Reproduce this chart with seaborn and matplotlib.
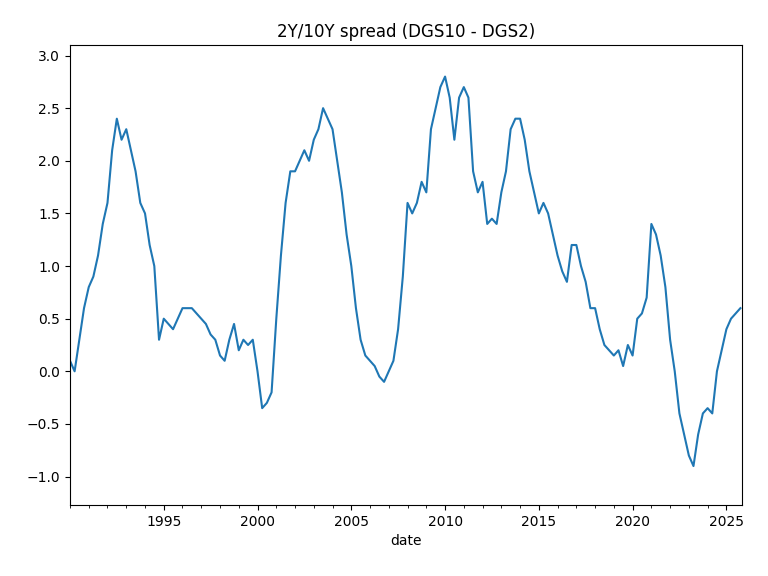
import matplotlib
matplotlib.use("Agg")
import matplotlib.pyplot as plt
import matplotlib.dates as mdates
import seaborn as sns
import pandas as pd

tick_years = [1995, 2000, 2005, 2010, 2015, 2020, 2025]
spread = [
    0.1, 0.0, 0.3, 0.6,
    0.8, 0.9, 1.1, 1.4,
    1.6, 2.1, 2.4, 2.2,
    2.3, 2.1, 1.9, 1.6,
    1.5, 1.2, 1.0, 0.3,
    0.5, 0.45, 0.4, 0.5,
    0.6, 0.6, 0.6, 0.55,
    0.5, 0.45, 0.35, 0.3,
    0.15, 0.1, 0.3, 0.45,
    0.2, 0.3, 0.25, 0.3,
    0.0, -0.35, -0.3, -0.2,
    0.5, 1.1, 1.6, 1.9,
    1.9, 2.0, 2.1, 2.0,
    2.2, 2.3, 2.5, 2.4,
    2.3, 2.0, 1.7, 1.3,
    1.0, 0.6, 0.3, 0.15,
    0.1, 0.05, -0.05, -0.1,
    0.0, 0.1, 0.4, 0.9,
    1.6, 1.5, 1.6, 1.8,
    1.7, 2.3, 2.5, 2.7,
    2.8, 2.6, 2.2, 2.6,
    2.7, 2.6, 1.9, 1.7,
    1.8, 1.4, 1.45, 1.4,
    1.7, 1.9, 2.3, 2.4,
    2.4, 2.2, 1.9, 1.7,
    1.5, 1.6, 1.5, 1.3,
    1.1, 0.95, 0.85, 1.2,
    1.2, 1.0, 0.85, 0.6,
    0.6, 0.4, 0.25, 0.2,
    0.15, 0.2, 0.05, 0.25,
    0.15, 0.5, 0.55, 0.7,
    1.4, 1.3, 1.1, 0.8,
    0.3, 0.0, -0.4, -0.6,
    -0.8, -0.9, -0.6, -0.4,
    -0.35, -0.4, 0.0, 0.2,
    0.4, 0.5, 0.55, 0.6,
]
dates = pd.date_range("1990-01-01", periods=len(spread), freq="QS")
df = pd.DataFrame({"date": dates, "spread": spread})

fig = plt.figure(figsize=(7.68, 5.76), dpi=100)
ax = fig.add_axes([70/768, 1-505/576, 672/768, 460/576])
sns.lineplot(data=df, x="date", y="spread", ax=ax, color="#1f77b4", linewidth=1.5)
ax.set_xlim(pd.Timestamp("1990-01-01"), pd.Timestamp("2025-11-01"))
ax.set_ylim(-1.27, 3.1)
ax.set_xticks([pd.Timestamp(f"{y}-01-01") for y in tick_years])
ax.set_xticklabels([str(y) for y in tick_years])
ax.xaxis.set_minor_locator(mdates.YearLocator(1))
ax.set_title("2Y/10Y spread (DGS10 - DGS2)")
ax.set_xlabel("date")
ax.set_ylabel("")
fig.savefig("out.png")
